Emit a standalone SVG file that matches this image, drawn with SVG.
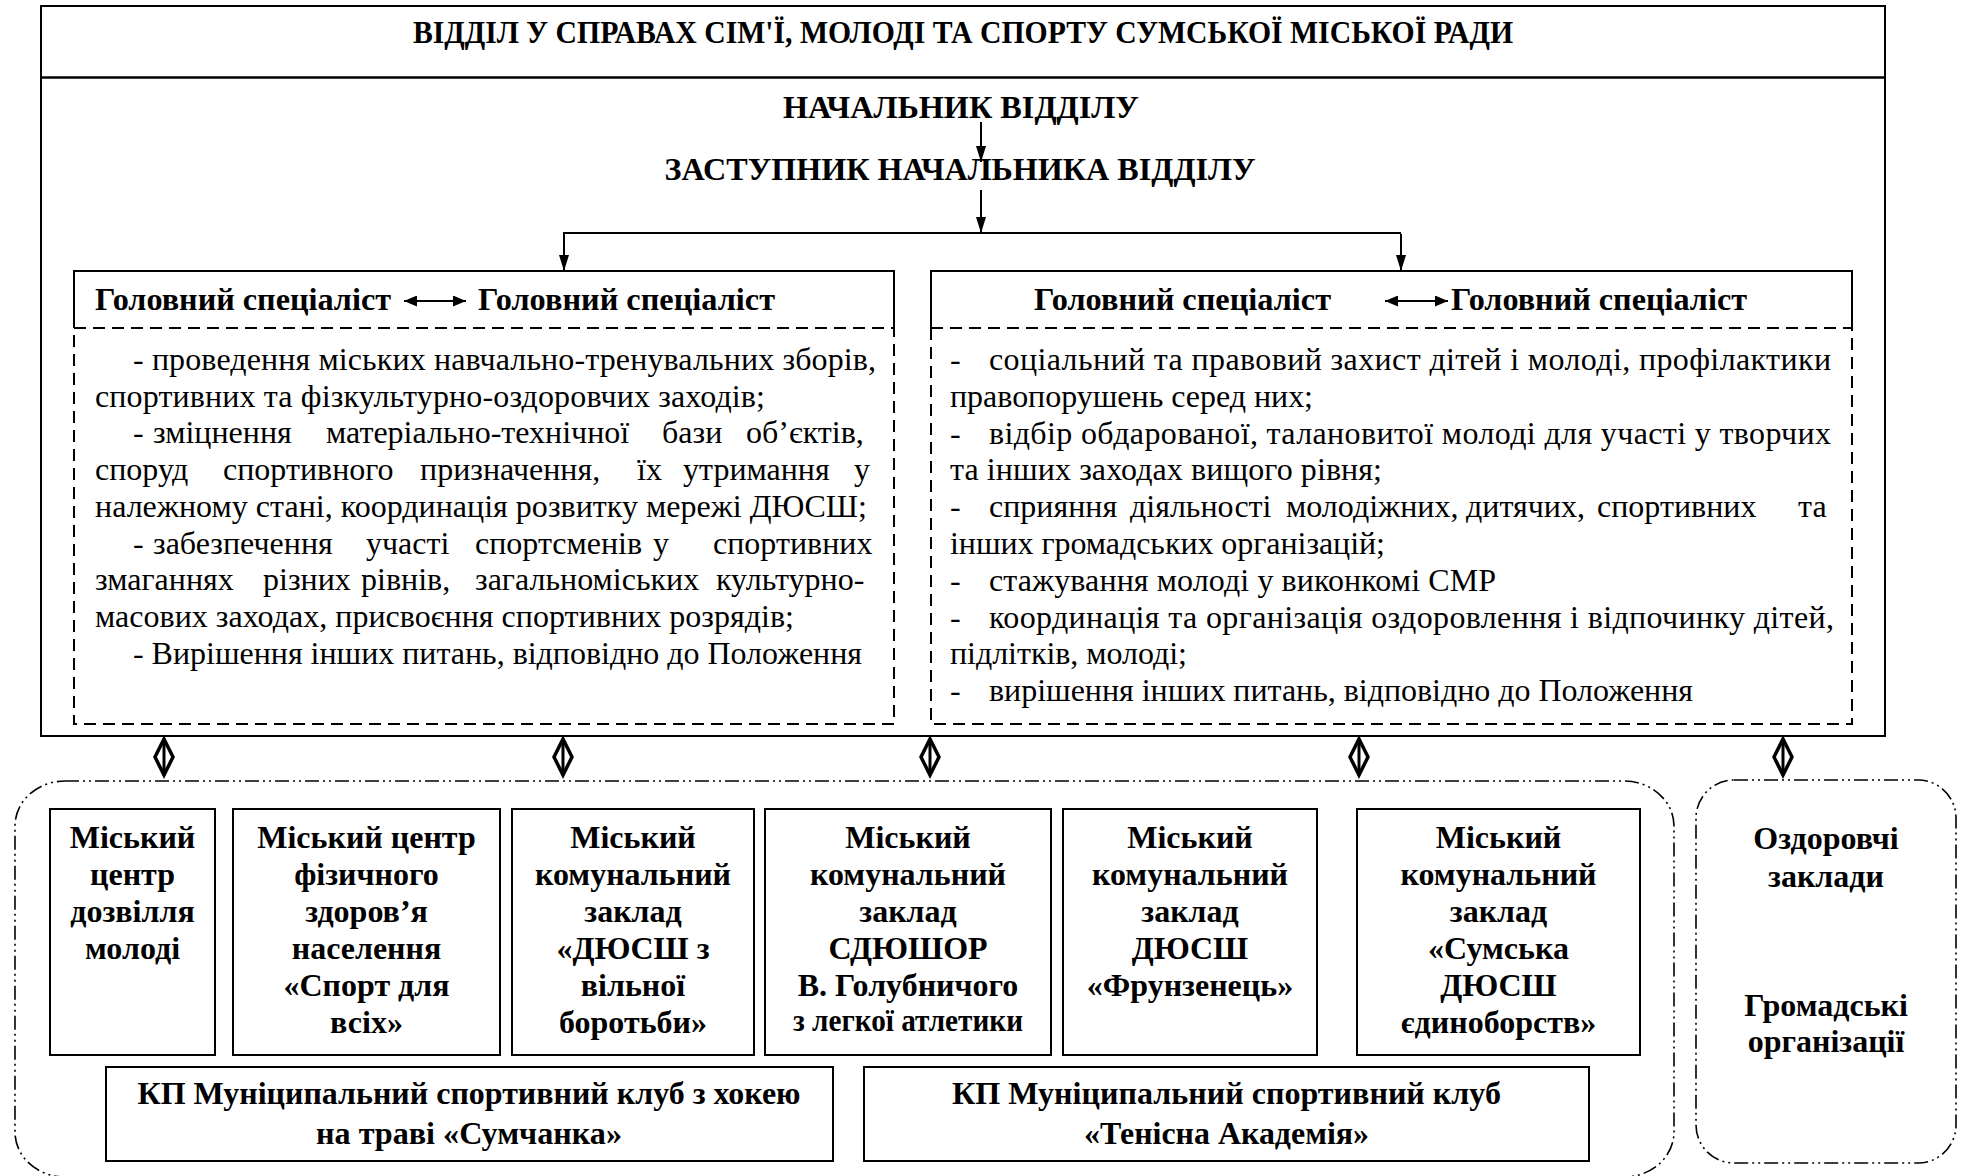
<svg xmlns="http://www.w3.org/2000/svg" width="1964" height="1176" viewBox="0 0 1964 1176">
<style>
.t{font-family:"Liberation Serif","Times New Roman",serif;fill:#000;font-size:32px}
.b{font-weight:bold}
.c{text-anchor:middle}
.box{fill:none;stroke:#000;stroke-width:2}
.dash{fill:none;stroke:#000;stroke-width:2;stroke-dasharray:12 7}
.dd{fill:none;stroke:#000;stroke-width:1.6;stroke-dasharray:14 4 2 4 2 4}
.ln{fill:none;stroke:#000;stroke-width:2}
.dm{fill:#fff;stroke:#000;stroke-width:3.5;stroke-linejoin:miter}
.dl{stroke:#000;stroke-width:3}
</style>
<defs>
<marker id="ah" markerUnits="userSpaceOnUse" markerWidth="16" markerHeight="10" refX="16" refY="5" orient="auto">
<path d="M0,0 L16,5 L0,10 z" fill="#000"/>
</marker>
<marker id="ah2" markerUnits="userSpaceOnUse" markerWidth="13" markerHeight="11" refX="13" refY="5.5" orient="auto-start-reverse">
<path d="M0,0 L13,5.5 L0,11 z" fill="#000"/>
</marker>
</defs>
<rect width="1964" height="1176" fill="#fff"/>

<g id="department">
<rect x="41" y="6" width="1844" height="730" class="box" stroke-width="2.2"/>
<line x1="41" y1="77.5" x2="1885" y2="77.5" stroke="#000" stroke-width="2.5"/>
<text class="t b c" x="963" y="43" font-size="28" textLength="1100" lengthAdjust="spacingAndGlyphs">ВІДДІЛ У СПРАВАХ СІМ'Ї, МОЛОДІ ТА СПОРТУ СУМСЬКОЇ МІСЬКОЇ РАДИ</text>
</g>

<g id="head">
<text class="t b c" x="961" y="118" font-size="31" textLength="356" lengthAdjust="spacingAndGlyphs">НАЧАЛЬНИК ВІДДІЛУ</text>
</g>
<g id="deputy">
<text class="t b c" x="960" y="180" font-size="31" textLength="591" lengthAdjust="spacingAndGlyphs">ЗАСТУПНИК НАЧАЛЬНИКА ВІДДІЛУ</text>
</g>

<g id="left-specialists">
<path d="M74,328 V271 H894 V328" class="box"/>
<path d="M74,328 H894 V724 H74 Z" class="dash"/>
<text class="t b" x="95" y="310" textLength="296" lengthAdjust="spacingAndGlyphs">Головний спеціаліст</text>
<text class="t b" x="478" y="310" textLength="297" lengthAdjust="spacingAndGlyphs">Головний спеціаліст</text>
<text class="t" x="133" y="370" textLength="743">- проведення міських навчально-тренувальних зборів,</text>
<text class="t" x="95" y="406.7" textLength="670">спортивних та фізкультурно-оздоровчих заходів;</text>
<text class="t" y="443.4"><tspan x="133">-</tspan><tspan x="153">зміцнення</tspan><tspan x="326">матеріально-технічної</tspan><tspan x="662">бази</tspan><tspan x="746">об’єктів,</tspan></text>
<text class="t" y="480.1"><tspan x="95">споруд</tspan><tspan x="223">спортивного</tspan><tspan x="420">призначення,</tspan><tspan x="637">їх</tspan><tspan x="683">утримання</tspan><tspan x="854">у</tspan></text>
<text class="t" x="95" y="516.8" textLength="772">належному стані, координація розвитку мережі ДЮСШ;</text>
<text class="t" y="553.5"><tspan x="133">-</tspan><tspan x="153">забезпечення</tspan><tspan x="366">участі</tspan><tspan x="475">спортсменів</tspan><tspan x="653">у</tspan><tspan x="713">спортивних</tspan></text>
<text class="t" y="590.2"><tspan x="95">змаганнях</tspan><tspan x="263">різних</tspan><tspan x="361">рівнів,</tspan><tspan x="475">загальноміських</tspan><tspan x="716">культурно-</tspan></text>
<text class="t" x="95" y="626.9" textLength="699">масових заходах, присвоєння спортивних розрядів;</text>
<text class="t" x="133" y="663.6" textLength="729">- Вирішення інших питань, відповідно до Положення</text>
</g>

<g id="right-specialists">
<path d="M931,328 V271 H1852 V328" class="box"/>
<path d="M931,328 H1852 V724 H931 Z" class="dash"/>
<text class="t b" x="1034" y="310" textLength="297" lengthAdjust="spacingAndGlyphs">Головний спеціаліст</text>
<text class="t b" x="1451" y="310" textLength="296" lengthAdjust="spacingAndGlyphs">Головний спеціаліст</text>
<text class="t" y="370"><tspan x="950">-</tspan><tspan x="989" textLength="842">соціальний та правовий захист дітей і молоді, профілактики</tspan></text>
<text class="t" x="950" y="406.8" textLength="363">правопорушень серед них;</text>
<text class="t" y="443.6"><tspan x="950">-</tspan><tspan x="989" textLength="842">відбір обдарованої, талановитої молоді для участі у творчих</tspan></text>
<text class="t" x="950" y="480.4" textLength="432">та інших заходах вищого рівня;</text>
<text class="t" y="517.2"><tspan x="950">-</tspan><tspan x="989">сприяння</tspan><tspan x="1130">діяльності</tspan><tspan x="1286">молодіжних,</tspan><tspan x="1466">дитячих,</tspan><tspan x="1597">спортивних</tspan><tspan x="1798">та</tspan></text>
<text class="t" x="950" y="554" textLength="435">інших громадських організацій;</text>
<text class="t" y="590.8"><tspan x="950">-</tspan><tspan x="989" textLength="507">стажування молоді у виконкомі СМР</tspan></text>
<text class="t" y="627.6"><tspan x="950">-</tspan><tspan x="989" textLength="845">координація та організація оздоровлення і відпочинку дітей,</tspan></text>
<text class="t" x="950" y="664.4" textLength="237">підлітків, молоді;</text>
<text class="t" y="701.2"><tspan x="950">-</tspan><tspan x="989" textLength="704">вирішення інших питань, відповідно до Положення</tspan></text>
</g>

<g id="subordinate-group">
<rect x="15" y="781" width="1659" height="396" rx="50" ry="45" class="dd"/>
</g>
<g id="other-group">
<rect x="1696" y="780" width="260" height="383" rx="38" ry="38" class="dd"/>
<text class="t b c" x="1826" y="849">Оздоровчі</text>
<text class="t b c" x="1826" y="887">заклади</text>
<text class="t b c" x="1826" y="1016">Громадські</text>
<text class="t b c" x="1826" y="1052">організації</text>
</g>

<g id="n1">
<rect x="50" y="809" width="165" height="246" class="box"/>
<text class="t b c" x="132.5" y="848">Міський</text>
<text class="t b c" x="132.5" y="885">центр</text>
<text class="t b c" x="132.5" y="922">дозвілля</text>
<text class="t b c" x="132.5" y="959">молоді</text>
</g>
<g id="n2">
<rect x="233" y="809" width="267" height="246" class="box"/>
<text class="t b c" x="366.5" y="848">Міський центр</text>
<text class="t b c" x="366.5" y="885">фізичного</text>
<text class="t b c" x="366.5" y="922">здоров’я</text>
<text class="t b c" x="366.5" y="959">населення</text>
<text class="t b c" x="366.5" y="996">«Спорт для</text>
<text class="t b c" x="366.5" y="1033">всіх»</text>
</g>
<g id="n3">
<rect x="512" y="809" width="242" height="246" class="box"/>
<text class="t b c" x="633" y="848">Міський</text>
<text class="t b c" x="633" y="885">комунальний</text>
<text class="t b c" x="633" y="922">заклад</text>
<text class="t b c" x="633" y="959">«ДЮСШ з</text>
<text class="t b c" x="633" y="996">вільної</text>
<text class="t b c" x="633" y="1033">боротьби»</text>
</g>
<g id="n4">
<rect x="765" y="809" width="286" height="246" class="box"/>
<text class="t b c" x="908" y="848">Міський</text>
<text class="t b c" x="908" y="885">комунальний</text>
<text class="t b c" x="908" y="922">заклад</text>
<text class="t b c" x="908" y="959">СДЮШОР</text>
<text class="t b c" x="908" y="996">В. Голубничого</text>
<text class="t b c" x="908" y="1031" font-size="27" textLength="230" lengthAdjust="spacingAndGlyphs">з легкої атлетики</text>
</g>
<g id="n5">
<rect x="1063" y="809" width="254" height="246" class="box"/>
<text class="t b c" x="1190" y="848">Міський</text>
<text class="t b c" x="1190" y="885">комунальний</text>
<text class="t b c" x="1190" y="922">заклад</text>
<text class="t b c" x="1190" y="959">ДЮСШ</text>
<text class="t b c" x="1190" y="996">«Фрунзенець»</text>
</g>
<g id="n6">
<rect x="1357" y="809" width="283" height="246" class="box"/>
<text class="t b c" x="1498.5" y="848">Міський</text>
<text class="t b c" x="1498.5" y="885">комунальний</text>
<text class="t b c" x="1498.5" y="922">заклад</text>
<text class="t b c" x="1498.5" y="959">«Сумська</text>
<text class="t b c" x="1498.5" y="996">ДЮСШ</text>
<text class="t b c" x="1498.5" y="1033">єдиноборств»</text>
</g>
<g id="n7">
<rect x="106" y="1067" width="727" height="94" class="box"/>
<text class="t b c" x="469" y="1104" textLength="663" lengthAdjust="spacingAndGlyphs">КП Муніципальний спортивний клуб з хокею</text>
<text class="t b c" x="469" y="1144" textLength="306" lengthAdjust="spacingAndGlyphs">на траві «Сумчанка»</text>
</g>
<g id="n8">
<rect x="864" y="1067" width="725" height="94" class="box"/>
<text class="t b c" x="1226.5" y="1104" textLength="549" lengthAdjust="spacingAndGlyphs">КП Муніципальний спортивний клуб</text>
<text class="t b c" x="1226.5" y="1144" textLength="285" lengthAdjust="spacingAndGlyphs">«Тенісна Академія»</text>
</g>

<g id="connectors">
<line x1="981" y1="122" x2="981" y2="162" class="ln" stroke-width="1.8" marker-end="url(#ah)"/>
<line x1="981" y1="190" x2="981" y2="233" class="ln" stroke-width="1.8" marker-end="url(#ah)"/>
<line x1="563" y1="233" x2="1401" y2="233" class="ln" stroke-width="2.5"/>
<line x1="564" y1="233" x2="564" y2="271" class="ln" stroke-width="1.8" marker-end="url(#ah)"/>
<line x1="1401" y1="234" x2="1401" y2="271" class="ln" stroke-width="1.8" marker-end="url(#ah)"/>
<line x1="404" y1="301" x2="466" y2="301" class="ln" stroke-width="2.2" marker-start="url(#ah2)" marker-end="url(#ah2)"/>
<line x1="1385" y1="301" x2="1448" y2="301" class="ln" stroke-width="2.2" marker-start="url(#ah2)" marker-end="url(#ah2)"/>
<g id="diamonds">
<polygon class="dm" points="164,739 173,757 164,775 155,757"/><line class="dl" x1="164" y1="742" x2="164" y2="772"/>
<polygon class="dm" points="563,739 572,757 563,775 554,757"/><line class="dl" x1="563" y1="742" x2="563" y2="772"/>
<polygon class="dm" points="930,739 939,757 930,775 921,757"/><line class="dl" x1="930" y1="742" x2="930" y2="772"/>
<polygon class="dm" points="1359,739 1368,757 1359,775 1350,757"/><line class="dl" x1="1359" y1="742" x2="1359" y2="772"/>
<polygon class="dm" points="1783,739 1792,757 1783,775 1774,757"/><line class="dl" x1="1783" y1="742" x2="1783" y2="772"/>
</g>
</g>
</svg>
